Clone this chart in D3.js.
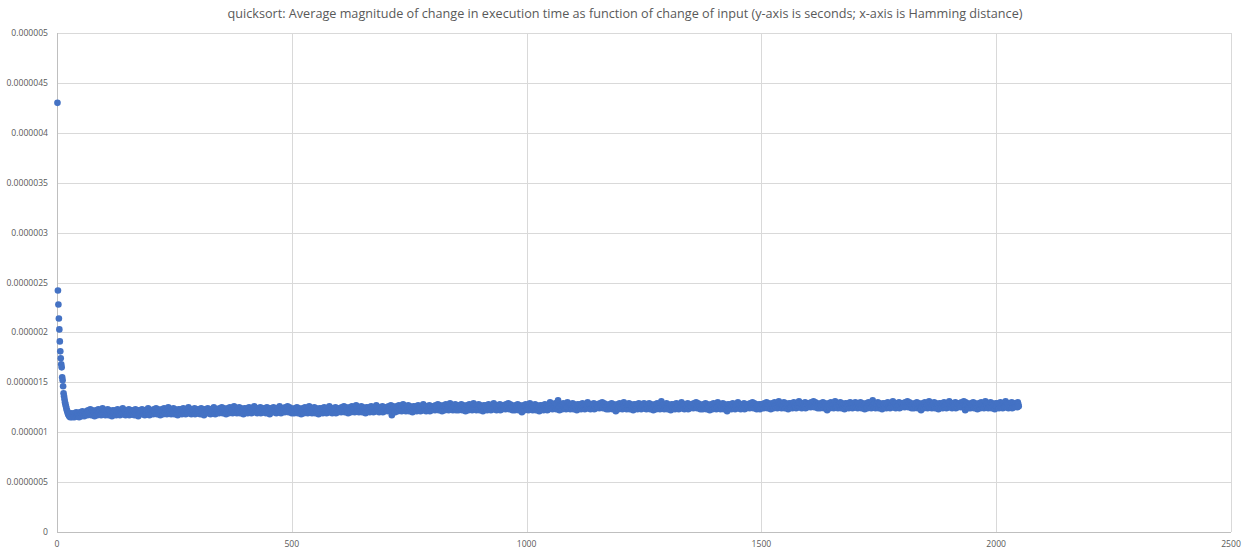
<!DOCTYPE html>
<html>
<head>
<meta charset="utf-8">
<script src="https://cdn.jsdelivr.net/npm/d3@7"></script>
<style>
  body { margin: 0; background: #fff; }
  svg { display: block; }
  text { font-family: "Open Sans", "Liberation Sans", sans-serif; fill: #595959; }
</style>
</head>
<body>
<svg id="canvas"></svg>
<script>
// values are in units of 1e-8 seconds, one per Hamming distance starting at 1

let decay = [430,242,228,214,203,191,181,174,168,165,155,152,146,139,136,133,130,128,126,124,122,121,119,118,117]

let dip = [116,118,115,117,119,116,115,118,117,116,119,115,117,118,116,120,117,116,118,119,117,115,118,120,117,119,116,118,121,117,119,118,116,120,118]

let bandA = [
120,118,121,119,117,122,120,118,119,121,123,119,117,120,122,118,120,121,119,116,
121,119,122,120,118,117,121,123,120,119,118,122,120,117,121,119,124,120,118,121,
119,122,117,120,121,118,120,123,119,117,122,120,121,118,119,121,116,120,122,119,
121,118,120,122,119,117,121,120,123,118,120,119,121,117,122,120,118,121,119,124,
120,118,122,119,121,117,120,122,118,121,119,120,123,117,121,119,122,118,120,121,
118,122,119,121,117,120,123,119,121,118,122,120,116,121,119,122,120,118,121,119,
123,120,118,121,119,122,117,120,121,119,122,118,120,124,119,121,117,120,122,119]

let bandB = [
121,119,122,120,118,123,121,119,120,122,124,120,118,121,123,119,121,122,120,117,
122,120,123,121,119,118,122,124,121,120,119,123,121,118,122,120,125,121,119,122,
120,123,118,121,122,119,121,124,120,118,123,121,122,119,120,122,117,121,123,120,
122,119,121,123,120,118,122,121,124,119,121,120,122,118,123,121,119,122,120,125,
121,119,123,120,122,118,121,123,119,122,120,121,124,118,122,120,123,119,121,122,
119,123,120,122,118,121,124,120,122,119,123,121,117,122,120,123,121,119,122,120,
124,121,119,122,120,123,118,121,122,120,123,119,121,125,120,122,118,121,123,120,
122,120,123,121,119,124,122,120,121,123,125,121,119,122,124,120,122,123,121,118,
123,121,124,122,120,119,123,125,122,121,120,124,122,119,123,121,126,122,120,123,
121,124,119,122,123,120,122,125,121,119,124,122,123,120,121,123,118,122,124,121,
123,120,122,124,121,119,123,122,125,120,122,121,123,119,124,122,120,123,121,126,
122,120,124,121,123,119,122,124,120,123,121,122,125,119,123,121,124,120,122,123,
120,124,121,123,119,122,125,121,123,120,124,122,118,123,121,124,122,120,123,121,
125,122,120,123,121,124,119,122,123,121,124,120,122,126,121,123,119,122,124,121,
123,121,124,122,120,125,123,121,122,124,126,122,120,123,125,121,123,124,122,119]

let bandC = [
122,120,123,121,119,124,122,120,121,123,125,121,119,122,124,120,122,123,121,118,
123,121,124,122,120,119,123,125,122,121,120,124,122,119,123,121,126,122,120,123,
121,124,119,122,123,120,122,125,121,119,124,122,123,120,121,123,118,122,124,121,
123,120,122,124,121,119,123,122,125,120,122,121,123,119,124,122,120,123,121,126,
122,120,124,121,123,119,122,124,120,123,121,122,125,119,123,121,124,120,122,123,
123,121,124,122,120,125,123,121,122,124,126,122,120,123,125,121,123,124,122,119,
124,122,125,123,121,120,124,126,123,122,121,125,123,120,124,122,127,123,121,124,
122,125,120,123,124,121,123,126,122,120,125,123,124,121,122,124,119,123,125,122,
124,121,123,125,122,120,124,123,126,121,123,122,124,120,125,123,121,124,122,127,
123,121,125,122,124,120,123,125,121,124,122,123,126,120,124,122,125,121,123,124,
124,122,125,123,121,126,124,122,123,125,127,123,117,124,126,122,124,125,123,120,
125,123,126,124,122,121,125,127,124,123,122,126,124,121,125,123,128,124,122,125,
123,126,121,124,125,122,124,127,123,121,126,124,125,122,123,125,120,124,126,123,
125,122,124,126,123,121,125,124,127,122,124,123,125,121,126,124,122,125,123,128,
124,122,126,123,125,121,124,126,122,125,123,124,127,121,125,123,126,122,124,125,
125,123,126,124,122,127,125,123,124,126,128,124,122,125,127,123,125,126,124,121,
126,124,127,125,123,122,126,128,125,124,123,127,125,122,126,124,129,125,123,126,
124,127,122,125,126,123,125,128,124,122]

let bandD = [
125,123,126,124,122,127,125,123,124,126,128,124,122,125,127,123,125,126,124,121,
126,124,127,125,123,122,126,128,125,124,123,127,125,122,126,124,129,125,123,126,
124,127,122,125,126,123,125,128,124,122,127,125,126,123,124,126,121,125,127,124,
126,123,125,127,124,122,126,125,128,123,125,124,126,122,127,125,123,126,124,129,
125,123,127,124,126,122,125,127,123,126,124,125,128,122,126,124,127,123,125,126,
126,124,127,125,123,128,126,124,125,127,129,125,123,126,128,124,126,127,125,122,
125,123,126,124,122,127,125,123,124,126,128,124,122,125,127,123,125,126,124,120,
126,124,127,125,123,122,126,128,125,124,123,127,125,122,126,124,129,125,123,126,
124,127,122,125,126,123,125,128,124,122,127,125,126,123,124,126,121,125,127,124,
126,123,125,127,124,122,126,125,128,123,125,124,126,122,127,125,123,126,124,130]

let bandE = [
126,124,127,125,123,128,126,124,125,127,129,125,123,126,128,124,132,127,125,122,
127,125,128,126,124,123,127,129,126,125,124,128,126,123,127,125,130,126,124,127,
125,128,123,126,127,124,126,129,125,123,128,126,127,124,125,127,122,126,128,125,
127,124,126,128,125,123,127,126,129,124,126,125,127,123,128,126,124,127,125,130,
126,124,128,125,127,123,126,128,124,127,125,126,129,123,127,125,128,124,126,127,
127,125,128,126,124,129,127,125,126,128,130,126,124,127,129,125,127,128,126,123,
126,124,127,125,123,128,126,124,125,127,129,125,123,126,128,124,126,127,125,121,
127,125,128,126,124,123,127,129,126,125,124,128,126,123,127,125,130,126,124,127,
125,128,123,126,127,124,126,129,125,123,128,126,127,124,125,127,122,126,128,125,
127,124,126,128,125,123,127,126,129,124,126,125,127,123,128,126,124,127,125,129,
126,124,127,125,123,128,126,124,125,127,129,125,123,126,128,124,126,127,125,122,
127,125,128,126,124,123,127,129,126,125,124,128,126,123,127,125,131,126,124,127,
125,128,123,126,127,124,126,129,125,123,128,126,127,124,125,127,122,126,128,125,
127,124,126,128,125,123,127,126,129,124,126,125,127,123,128,126,124,127,125,130,
126,124,128,125,127,123,126,128,124,127,125,126,129,123,127,125,128,124,126,127,
127,125,128,126,124,129,127,125,126,128,130,126,124,127,129,125,127,128,126,123,
126,124,127,125,123,128,126,124,125,127,129,125,123,126,128,124,126,127,125,122,
127,125,128,126,124,123,127,129,126,125,124,128,126,123,127,125,130,126,124,127,
125,128,123,126,127,124,126,129,125,123,128,126,127,124,125,127,121,126,128,125,
127,124,126,128,125,123,127,126,129,124,126,125,127,123,128,126,124,127,125,130,
126,124,128,125,127,123,126,128,124,127,125,126,129,123,127,125,128,124,126,127,
127,125,128,126,124,129,127,125,126,128,130,126,124,127,129,125,127,128,126,123,
126,124,127,125,128,126,123,127,125,128]

let bandF = [
127,125,128,126,124,129,127,125,126,128,130,126,124,127,129,125,127,128,126,123,
128,126,129,127,125,124,128,130,127,126,125,129,127,124,128,126,131,127,125,128,
126,129,124,127,128,125,127,130,126,124,129,127,128,125,126,128,123,127,129,126,
128,125,127,129,126,124,128,127,130,125,127,126,128,124,129,127,125,128,126,131,
127,125,129,126,128,124,127,129,125,128,126,127,130,124,128,126,129,125,127,128,
128,126,129,127,125,130,128,126,127,129,131,127,125,128,130,126,128,129,127,124,
127,125,128,126,124,129,127,125,126,128,130,126,124,127,129,125,127,128,126,122,
128,126,129,127,125,124,128,130,127,126,125,129,127,124,128,126,131,127,125,128,
126,129,124,127,128,125,127,130,126,124,129,127,128,125,126,128,123,127,129,126,
128,125,127,129,126,124,128,127,130,125,127,126,128,124,129,127,125,128,126,130,
127,125,128,126,124,129,127,125,126,128,130,126,124,127,129,125,127,128,126,123,
128,126,129,127,125,124,128,130,127,126,125,129,127,124,128,126,132,127,125,128,
126,129,124,127,128,125,127,130,126,124,129,127,128,125,126,128,123,127,129,126,
128,125,127,129,126,124,128,127,130,125,127,126,128,124,129,127,125,128,126,131,
127,125,129,126,128,124,127,129,125,128,126,127,130,124,128,126,129,125,127,128,
128,126,129,127,125,130,128,126,127,129,131,127,125,128,130,126,128,129,127,124,
127,125,128,126,124,129,127,125,126,128,130,126,124,127,129,125,127,128,126,122,
128,126,129,127,125,124,128,130,127,126,125,129,127,124,128,126,131,127,125,128,
126,129,124,127,128,125,127,130,126,124,129,127,128,125,126,128,123,127,129,126,
128,125,127,129,126,124,128,127,130,125,127,126,128,124,129,127,125,128,126,131,
127,125,129,126,128,124,127,129,125,128,126,127,130,124,128,126,129,125,127,128,
128,126,129,127,125,130,128,126,127,129,131,127,125,122,130,126,128,129,127,124,
127,125,128,126,124,129,127,125,126,128,130,126,124,127,129,125,127,128,126,123,
128,126,129,127,125,124,128,130,127,126,125,129,127,124,128,126,131,127,125,128,
126,129,124,127,128,125,127,130,126,124,129,127,128,125,126,128,123,127,129,126,
128,125,127,129,126,124,128,127,130,125,127,126,128,124,129,127,125,128,126,131,
127,125,129,126,128,124,127,129,125,128,126,127,130,124,128,126,129,125,127,128,
128,126,129,127,125,130,128,126]

let yTicks = [0, 0.0000005, 0.000001, 0.0000015, 0.000002, 0.0000025, 0.000003, 0.0000035, 0.000004, 0.0000045, 0.000005]
let yLabels = ["0", "0.0000005", "0.000001", "0.0000015", "0.000002", "0.0000025", "0.000003", "0.0000035", "0.000004", "0.0000045", "0.000005"]
let xTicks = [0, 500, 1000, 1500, 2000, 2500]

let title = "quicksort: Average magnitude of change in execution time as function of change of input (y-axis is seconds; x-axis is Hamming distance)"

let width = 1249
let height = 552
let plotLeft = 57, plotRight = 1231, plotTop = 33, plotBottom = 532

let values = [].concat(decay, dip, bandA, bandB, bandC, bandD, bandE, bandF)
let points = values.map((v, i) => ({ x: i + 1, y: v * 1e-8 }))

let svg = d3.select("#canvas")
            .attr("width", width)
            .attr("height", height)

let xScale = d3.scaleLinear().domain([0, 2500]).range([plotLeft, plotRight])
let yScale = d3.scaleLinear().domain([0, 0.000005]).range([plotBottom, plotTop])

// gridlines
svg.append("g")
   .selectAll("line")
   .data(yTicks.slice(1))
   .enter()
   .append("line")
   .attr("x1", plotLeft).attr("x2", plotRight)
   .attr("y1", d => Math.round(yScale(d)) + 0.5)
   .attr("y2", d => Math.round(yScale(d)) + 0.5)
   .attr("stroke", "#d9d9d9")

svg.append("g")
   .selectAll("line")
   .data(xTicks.slice(1))
   .enter()
   .append("line")
   .attr("y1", plotTop).attr("y2", plotBottom)
   .attr("x1", d => Math.round(xScale(d)) + 0.5)
   .attr("x2", d => Math.round(xScale(d)) + 0.5)
   .attr("stroke", "#d9d9d9")

// axis lines
svg.append("line")
   .attr("x1", plotLeft + 0.5).attr("x2", plotLeft + 0.5)
   .attr("y1", plotTop).attr("y2", plotBottom + 0.5)
   .attr("stroke", "#bfbfbf")
svg.append("line")
   .attr("x1", plotLeft).attr("x2", plotRight)
   .attr("y1", plotBottom + 0.5).attr("y2", plotBottom + 0.5)
   .attr("stroke", "#bfbfbf")

// tick labels
svg.append("g")
   .selectAll("text")
   .data(yTicks)
   .enter()
   .append("text")
   .attr("x", plotLeft - 9)
   .attr("y", d => yScale(d) + 3)
   .attr("text-anchor", "end")
   .style("font-size", "8.6px")
   .text((d, i) => yLabels[i])

svg.append("g")
   .selectAll("text")
   .data(xTicks)
   .enter()
   .append("text")
   .attr("x", d => xScale(d))
   .attr("y", plotBottom + 15)
   .attr("text-anchor", "middle")
   .style("font-size", "8.6px")
   .text(d => d)

// points
svg.append("g")
   .selectAll("circle")
   .data(points)
   .enter()
   .append("circle")
   .attr("cx", d => xScale(d.x))
   .attr("cy", d => yScale(d.y))
   .attr("r", 3.3)
   .attr("fill", "#4472c4")

svg.append("text")
   .attr("x", 625)
   .attr("y", 18)
   .attr("text-anchor", "middle")
   .attr("textLength", 795)
   .attr("lengthAdjust", "spacingAndGlyphs")
   .style("font-size", "13px")
   .text(title)
</script>
</body>
</html>
